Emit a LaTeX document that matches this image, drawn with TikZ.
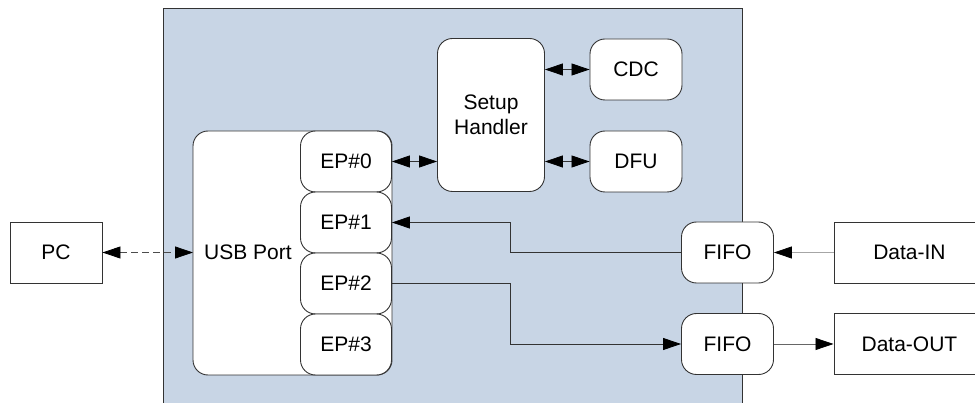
\documentclass[tikz,border=0pt]{standalone}
\usepackage{fontspec}
\setmainfont{Liberation Sans}
\usetikzlibrary{arrows.meta}
\definecolor{panel}{HTML}{C8D5E5}
\definecolor{edge}{HTML}{333333}
\begin{document}
\begin{tikzpicture}[x=1pt,y=-1pt,
  font=\fontsize{21}{25}\selectfont,
  box/.style={draw=edge,line width=0.9pt,fill=white,inner sep=0pt},
  rbox/.style={box,rounded corners=15pt},
  tip/.style={-{Triangle[length=18pt,width=12pt,color=black]}},
  both/.style={{Triangle[length=18pt,width=12pt,color=black]}-{Triangle[length=18pt,width=12pt,color=black]}},
  link/.style={draw=black!80,line width=0.8pt}]
\useasboundingbox (0,0) rectangle (975,403);
\clip (0,0) rectangle (975,403);
% controller panel
\draw[fill=panel,draw=edge,line width=1pt] (163,8.5) rectangle (742,420);
% host side
\node[box,minimum width=92pt,minimum height=61pt] (pc) at (56,252.5) {PC};
% USB port with its endpoints
\draw[rbox] (193,131) rectangle (392,375);
\node (usb) at (248,252.5) {USB Port};
\coordinate (usbl) at (193,252.5);
\node[rbox,minimum width=91pt,minimum height=61pt] (ep0) at (346,161.5) {EP\#0};
\node[rbox,minimum width=91pt,minimum height=61pt] (ep1) at (346,222.5) {EP\#1};
\node[rbox,minimum width=91pt,minimum height=61pt] (ep2) at (346,283.5) {EP\#2};
\node[rbox,minimum width=91pt,minimum height=61pt] (ep3) at (346,344.5) {EP\#3};
% control path
\node[rbox,minimum width=107pt,minimum height=153pt,align=center] (setup) at (491,115) {Setup\\Handler};
\node[rbox,minimum width=92pt,minimum height=61pt] (cdc) at (636,69.5) {CDC};
\node[rbox,minimum width=92pt,minimum height=61pt] (dfu) at (636,161.5) {DFU};
% data path
\node[rbox,minimum width=92pt,minimum height=61pt] (fifoin) at (727.5,252.5) {FIFO};
\node[rbox,minimum width=92pt,minimum height=61pt] (fifoout) at (727.5,344) {FIFO};
\node[box,minimum width=151pt,minimum height=61pt,anchor=west] (din) at (833.5,252.5) {Data-IN};
\node[box,minimum width=151pt,minimum height=61pt,anchor=west] (dout) at (833.5,344) {Data-OUT};
% connectors
\draw[link,both,dash pattern=on 7pt off 4pt,draw=black!70] (pc.east) -- (usbl);
\draw[link,both] (ep0.east) -- (ep0.east -| setup.west);
\draw[link,both] (setup.east |- cdc) -- (cdc.west);
\draw[link,both] (setup.east |- dfu) -- (dfu.west);
\draw[link,tip] (fifoin.west) -| (510,222.5) -- (ep1.east);
\draw[link,tip] (ep2.east) -- (510,283.5) |- (fifoout.west);
\draw[link,tip,draw=black!35] (din.west) -- (fifoin.east);
\draw[link,tip,draw=black!60] (fifoout.east) -- (dout.west);
\end{tikzpicture}
\end{document}
